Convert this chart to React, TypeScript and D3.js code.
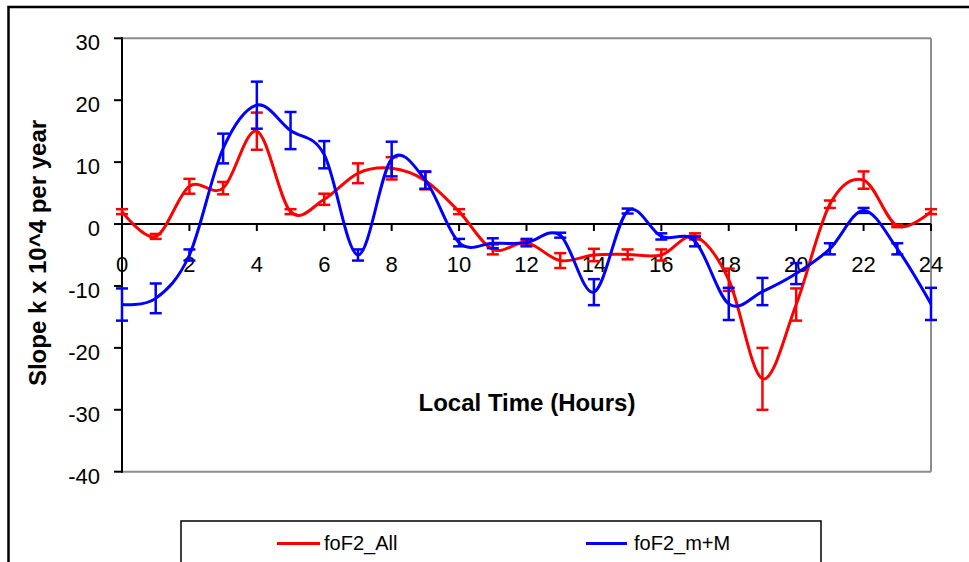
import React from 'react';
import * as d3 from 'd3';

// hours of the day (x categories)
const hours = [0, 1, 2, 3, 4, 5, 6, 7, 8, 9, 10, 11, 12, 13, 14, 15, 16, 17, 18, 19, 20, 21, 22, 23, 24];

// foF2_All slope values and their error (+/-)
const allValues = [2, -2, 6.1, 5.8, 15, 2, 4, 8.2, 9, 7, 2, -4.1, -3, -5.9, -5, -4.9, -5, -2, -9, -25, -13, 3.2, 7.1, -0.3, 2];
const allErrors = [0.4, 0.4, 1.2, 1.0, 3, 0.4, 0.9, 1.6, 1.8, 1.4, 0.4, 0.8, 0.4, 1.2, 1.0, 0.8, 0.9, 0.5, 1.8, 5, 2.6, 0.6, 1.4, 0.2, 0.4];

// foF2_m+M slope values and their error (+/-)
const mmValues = [-13, -12, -5, 12.2, 19.2, 15.1, 11.2, -5, 10.5, 7.1, -3, -3.1, -3, -1.8, -11, 2.1, -2, -2.8, -12.9, -10.9, -8, -4, 2.2, -4, -12.9];
const mmErrors = [2.6, 2.4, 0.9, 2.4, 3.8, 3, 2.2, 0.9, 2.8, 1.4, 0.6, 0.8, 0.6, 0.4, 2.1, 0.4, 0.5, 0.8, 2.6, 2.2, 1.7, 0.9, 0.4, 0.9, 2.6];

const yTicks = [-40, -30, -20, -10, 0, 10, 20, 30];
const xTicks = [0, 2, 4, 6, 8, 10, 12, 14, 16, 18, 20, 22, 24];

const FONT = '"Liberation Sans", Arial, sans-serif';

const series = [
  { name: 'foF2_All', color: '#ff0000', values: allValues, errors: allErrors },
  { name: 'foF2_m+M', color: '#0000ff', values: mmValues, errors: mmErrors },
];

export default function App() {
  const width = 969;
  const height = 562;
  const plot = { left: 122, right: 931, top: 38.3, bottom: 471.7 };

  const x = d3.scaleLinear().domain([0, 24]).range([plot.left, plot.right]);
  const y = d3.scaleLinear().domain([-40, 30]).range([plot.bottom, plot.top]);

  const line = d3.line<number>()
    .x((_, i) => x(hours[i]))
    .y(d => y(d))
    .curve(d3.curveCardinal.tension(0));

  const capW = 6;

  return (
    <div style={{ position: 'absolute', left: 0, top: 0, width, height, overflow: 'hidden', background: '#fff' }}>
      <svg width={width} height={height} style={{ display: 'block', fontFamily: FONT }}>
        <rect x={0} y={0} width={width} height={height} fill="#fff" />
        {/* chart outer border */}
        <rect x={8.5} y={7} width={width + 20} height={height + 20} fill="none" stroke="#000" strokeWidth={2.5} />

        {/* plot frame: gray top, right, bottom */}
        <line x1={plot.left} x2={plot.right} y1={plot.top} y2={plot.top} stroke="#8c8c8c" strokeWidth={2} />
        <line x1={plot.right} x2={plot.right} y1={plot.top} y2={plot.bottom} stroke="#8c8c8c" strokeWidth={2} />
        <line x1={plot.left} x2={plot.right} y1={plot.bottom} y2={plot.bottom} stroke="#8c8c8c" strokeWidth={2} />

        {/* y axis */}
        <line x1={plot.left} x2={plot.left} y1={plot.top - 1} y2={plot.bottom + 1} stroke="#000" strokeWidth={2} />
        {yTicks.map(t => (
          <g key={'y' + t}>
            <line x1={plot.left - 8} x2={plot.left} y1={y(t)} y2={y(t)} stroke="#000" strokeWidth={2} />
            <text x={100} y={y(t) + 12} textAnchor="end" fontSize={22} fill="#000">{t}</text>
          </g>
        ))}

        {/* x axis at zero */}
        <line x1={plot.left} x2={plot.right} y1={y(0)} y2={y(0)} stroke="#000" strokeWidth={2} />
        {xTicks.map(t => (
          <g key={'x' + t}>
            <line x1={x(t)} x2={x(t)} y1={y(0)} y2={y(0) + 7} stroke="#000" strokeWidth={2} />
            <text x={x(t)} y={271.5} textAnchor="middle" fontSize={22} fill="#000">{t}</text>
          </g>
        ))}

        {/* axis titles */}
        <text x={527} y={411} textAnchor="middle" fontSize={24} fontWeight="bold" fill="#000">Local Time (Hours)</text>
        <text transform="translate(46,253) rotate(-90)" textAnchor="middle" fontSize={24} fontWeight="bold" fill="#000">
          Slope k x 10^4 per year
        </text>

        {/* series: error bars then smoothed line */}
        {series.map(s => (
          <g key={s.name}>
            {s.values.map((v, i) => {
              const cx = x(hours[i]);
              const top = y(v + s.errors[i]);
              const bot = y(v - s.errors[i]);
              return (
                <g key={i} stroke={s.color} strokeWidth={2.5}>
                  <line x1={cx} x2={cx} y1={top} y2={bot} />
                  <line x1={cx - capW} x2={cx + capW} y1={top} y2={top} />
                  <line x1={cx - capW} x2={cx + capW} y1={bot} y2={bot} />
                </g>
              );
            })}
            <path d={line(s.values) || ''} fill="none" stroke={s.color} strokeWidth={3} strokeLinejoin="round" />
          </g>
        ))}

        {/* legend */}
        <rect x={181} y={521} width={640} height={60} fill="#fff" stroke="#000" strokeWidth={1.5} />
        <line x1={277} x2={320} y1={543.5} y2={543.5} stroke={series[0].color} strokeWidth={3} />
        <text x={324} y={550} fontSize={20} fill="#000">{series[0].name}</text>
        <line x1={586} x2={627} y1={543.5} y2={543.5} stroke={series[1].color} strokeWidth={3} />
        <text x={634} y={550} fontSize={20} fill="#000">{series[1].name}</text>
      </svg>
    </div>
  );
}
